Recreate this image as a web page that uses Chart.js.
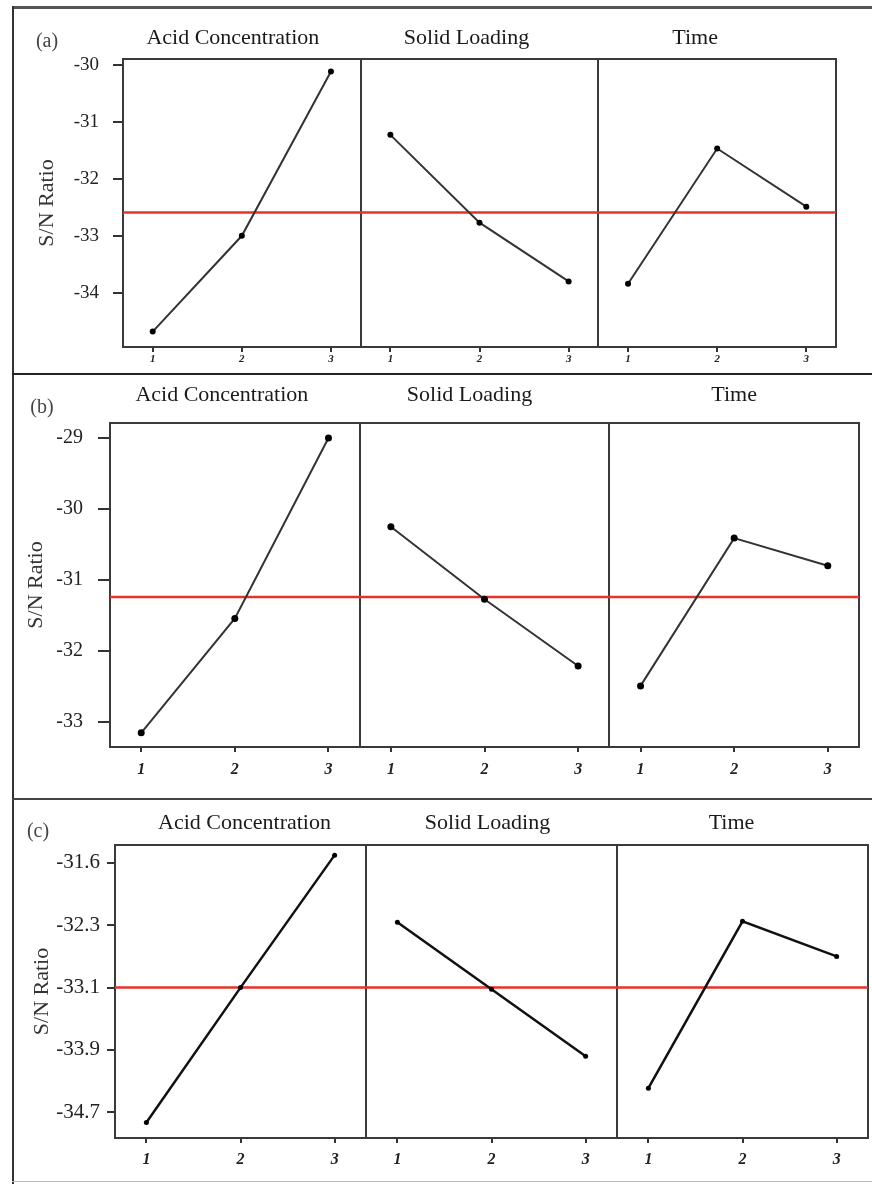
<!DOCTYPE html>
<html>
<head>
<meta charset="utf-8">
<title>S/N Ratio main effects</title>
<script src="https://cdn.jsdelivr.net/npm/chart.js@4.4.1/dist/chart.umd.min.js"></script>
<style>
    html, body { margin: 0; padding: 0; background: #fff; }
    body { width: 872px; height: 1184px; position: relative; overflow: hidden; }
    .panel { position: absolute; left: 0; width: 872px; }
    .rule { position: absolute; }
</style>
</head>
<body>
<div class="rule" style="left:12px;top:6px;width:860px;height:3px;background:#555"></div>
<div class="rule" style="left:12px;top:6px;width:2px;height:1178px;background:#333"></div>
<div class="rule" style="left:12px;top:373px;width:860px;height:2px;background:#222"></div>
<div class="rule" style="left:12px;top:798px;width:860px;height:2px;background:#444"></div>
<div class="rule" style="left:12px;top:1181px;width:860px;height:1px;background:#bbb"></div>

<div class="panel" style="top:8px;height:366px"><canvas id="chartA"></canvas></div>
<div class="panel" style="top:374px;height:426px"><canvas id="chartB"></canvas></div>
<div class="panel" style="top:800px;height:384px"><canvas id="chartC"></canvas></div>

<script>
// factors and levels shared by all three panels
var factors = ['Acid Concentration', 'Solid Loading', 'Time'];
var levels = ['1', '2', '3'];
var yTitle = 'S/N Ratio';

// (a)
var acidA = [-34.68, -33.00, -30.12];
var solidA = [-31.23, -32.77, -33.80];
var timeA = [-33.84, -31.47, -32.49];
var meanA = -32.59;
var yTicksA = [-30, -31, -32, -33, -34];
var yLabelsA = ['-30', '-31', '-32', '-33', '-34'];

// (b)
var acidB = [-33.15, -31.54, -29.00];
var solidB = [-30.25, -31.27, -32.21];
var timeB = [-32.49, -30.41, -30.80];
var meanB = -31.24;
var yTicksB = [-29, -30, -31, -32, -33];
var yLabelsB = ['-29', '-30', '-31', '-32', '-33'];

// (c)
var acidC = [-34.83, -33.10, -31.40];
var solidC = [-32.26, -33.12, -33.98];
var timeC = [-34.39, -32.25, -32.70];
var meanC = -33.10;
var yTicksC = [-31.5, -32.3, -33.1, -33.9, -34.7];
var yLabelsC = ['-31.6', '-32.3', '-33.1', '-33.9', '-34.7'];

var SERIF = '"Liberation Serif", "DejaVu Serif", serif';
var SEG = 8 / 3;   // width of one factor block on the x scale

function xPos(seg, lvl) {
    return seg * SEG + 1 / 3 + lvl;
}

var framePlugin = {
    id: 'frame',
    beforeDatasetsDraw: function (chart, args, o) {
        var ctx = chart.ctx, a = chart.chartArea, xs = chart.scales.x;
        ctx.save();
        ctx.strokeStyle = '#3a3a3a';
        ctx.lineWidth = 2;
        ctx.strokeRect(a.left, a.top, a.right - a.left, a.bottom - a.top);
        for (var k = 1; k < 3; k++) {
            var px = Math.round(xs.getPixelForValue(k * SEG));
            ctx.beginPath();
            ctx.moveTo(px, a.top);
            ctx.lineTo(px, a.bottom);
            ctx.stroke();
        }
        ctx.restore();
    },
    afterDraw: function (chart, args, o) {
        var ctx = chart.ctx, xs = chart.scales.x;
        ctx.save();
        ctx.fillStyle = '#1a1a1a';
        ctx.textAlign = 'center';
        ctx.textBaseline = 'middle';
        ctx.font = o.titleSize + 'px ' + SERIF;
        factors.forEach(function (f, k) {
            ctx.fillText(f, xs.getPixelForValue((k + 0.5) * SEG) + o.titleShift[k], o.titleY);
        });
        ctx.font = '20px ' + SERIF;
        ctx.fillStyle = '#444';
        ctx.fillText(o.tag, o.tagX, o.tagY);
        ctx.restore();
    }
};

function makePanel(id, p) {
    var series = [p.acid, p.solid, p.time];
    var datasets = series.map(function (vals, k) {
        return {
            data: vals.map(function (v, i) { return { x: xPos(k, i), y: v }; }),
            borderColor: p.lineColor,
            borderWidth: p.lineWidth,
            pointRadius: p.dot,
            pointBackgroundColor: '#000',
            pointBorderWidth: 0,
            tension: 0
        };
    });
    datasets.push({
        data: [{ x: 0, y: p.mean }, { x: 3 * SEG, y: p.mean }],
        borderColor: '#e5332a',
        borderWidth: 2.5,
        pointRadius: 0
    });

    var xTickVals = [];
    for (var k = 0; k < 3; k++) {
        for (var i = 0; i < 3; i++) xTickVals.push(xPos(k, i));
    }

    return new Chart(document.getElementById(id), {
        type: 'line',
        data: { datasets: datasets },
        options: {
            responsive: true,
            maintainAspectRatio: false,
            animation: false,
            layout: { padding: { left: 0, top: p.padTop, right: p.padRight, bottom: 0 } },
            plugins: {
                legend: { display: false },
                tooltip: { enabled: false },
                frame: p.frame
            },
            scales: {
                x: {
                    type: 'linear',
                    min: 0,
                    max: 3 * SEG,
                    afterBuildTicks: function (s) {
                        s.ticks = xTickVals.map(function (v) { return { value: v }; });
                    },
                    afterFit: function (s) { s.height = p.xAxisH; },
                    border: { display: false },
                    grid: { drawOnChartArea: false, drawTicks: true, tickLength: 5, color: '#333', lineWidth: 2 },
                    ticks: {
                        padding: p.xPad,
                        color: '#222',
                        maxRotation: 0,
                        font: { family: SERIF, size: p.xFont, style: 'italic', weight: 'bold' },
                        callback: function (v, i) { return levels[i % 3]; }
                    }
                },
                y: {
                    min: p.yMin,
                    max: p.yMax,
                    afterBuildTicks: function (s) {
                        s.ticks = p.yTicks.map(function (v) { return { value: v }; });
                    },
                    afterFit: function (s) { s.width = p.left; },
                    border: { display: false },
                    grid: { drawOnChartArea: false, drawTicks: true, tickLength: p.yTickLen, color: '#333', lineWidth: 2 },
                    ticks: {
                        padding: p.yPad,
                        color: '#222',
                        font: { family: SERIF, size: p.yFont },
                        callback: function (v, i) { return p.yLabels[i]; }
                    },
                    title: {
                        display: true,
                        text: yTitle,
                        color: '#333',
                        font: { family: SERIF, size: 22 },
                        padding: { top: p.yTitlePad, bottom: 0 }
                    }
                }
            }
        },
        plugins: [framePlugin]
    });
}

document.addEventListener('DOMContentLoaded', function () {
    makePanel('chartA', {
        acid: acidA, solid: solidA, time: timeA, mean: meanA,
        yMin: -34.95, yMax: -29.9, yTicks: yTicksA, yLabels: yLabelsA,
        left: 123, padTop: 51, padRight: 36, xAxisH: 27,
        yTickLen: 10, yPad: 14, yFont: 19, yTitlePad: 34,
        xFont: 11, xPad: 1,
        lineColor: '#333', lineWidth: 2, dot: 3,
        frame: { titleSize: 22, titleY: 30, titleShift: [-9, -13, -22], tag: '(a)', tagX: 47, tagY: 34 }
    });
    makePanel('chartB', {
        acid: acidB, solid: solidB, time: timeB, mean: meanB,
        yMin: -33.35, yMax: -28.79, yTicks: yTicksB, yLabels: yLabelsB,
        left: 110, padTop: 49, padRight: 13, xAxisH: 53,
        yTickLen: 12, yPad: 15, yFont: 20, yTitlePad: 23,
        xFont: 16, xPad: 8,
        lineColor: '#333', lineWidth: 2, dot: 3.5,
        frame: { titleSize: 22, titleY: 21, titleShift: [-13, -15, 0], tag: '(b)', tagX: 42, tagY: 34 }
    });
    makePanel('chartC', {
        acid: acidC, solid: solidC, time: timeC, mean: meanC,
        yMin: -35.03, yMax: -31.27, yTicks: yTicksC, yLabels: yLabelsC,
        left: 115, padTop: 45, padRight: 4, xAxisH: 46,
        yTickLen: 8, yPad: 7, yFont: 21, yTitlePad: 29,
        xFont: 16, xPad: 7,
        lineColor: '#111', lineWidth: 2.5, dot: 2.5,
        frame: { titleSize: 22, titleY: 23, titleShift: [4, -4, -11], tag: '(c)', tagX: 38, tagY: 32 }
    });
});
</script>
</body>
</html>
